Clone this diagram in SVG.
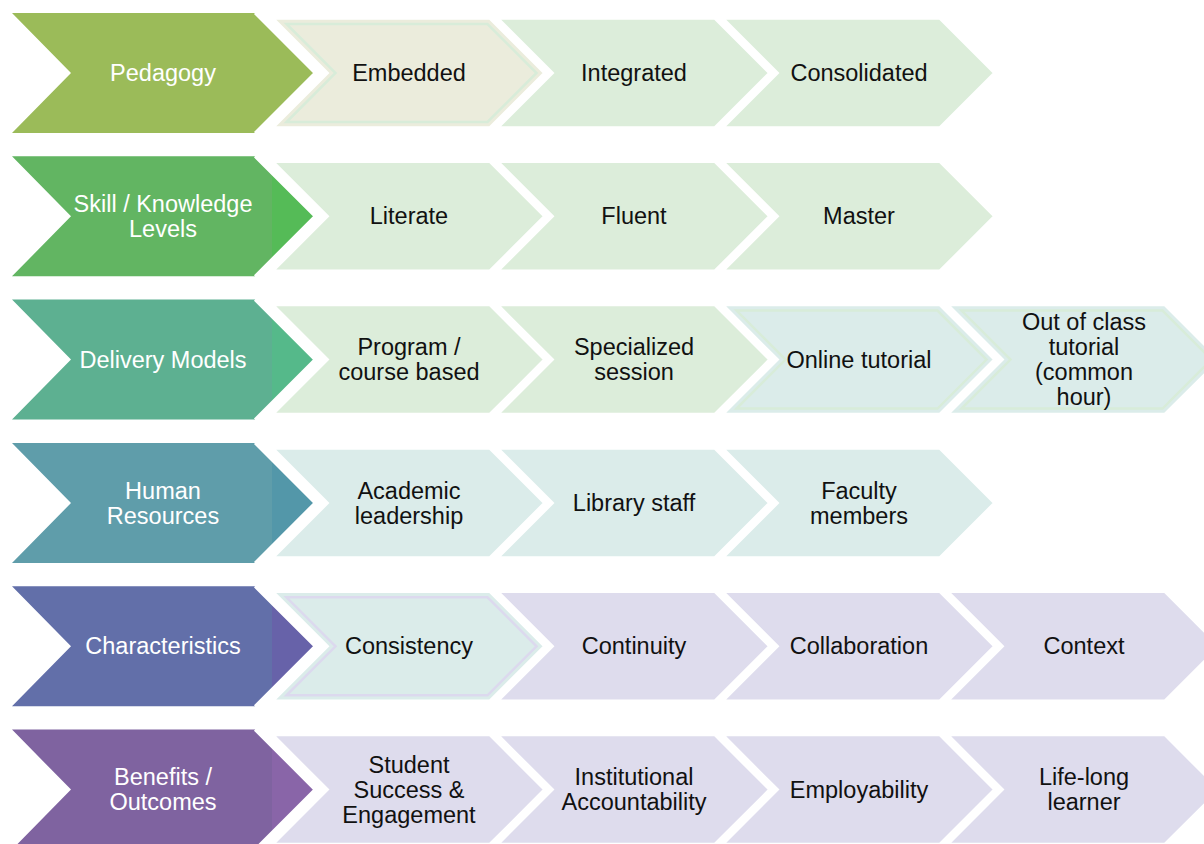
<svg xmlns="http://www.w3.org/2000/svg" xmlns:xlink="http://www.w3.org/1999/xlink" width="1204" height="844" viewBox="0 0 1204 844">
  <style>
    .edge { fill: none; stroke: #ffffff; stroke-width: 3; stroke-linejoin: miter; }
    .small { stroke: #ffffff; stroke-width: 3.5; stroke-linejoin: miter; }
    .inner { fill: none; stroke-width: 2.5; }
    .g { fill: #dcedda; }
    .b { fill: #ebecdc; }
    .t { fill: #dbecea; }
    .l { fill: #dedced; }
    .olg { stroke: #d8ecd9; }
    .oll { stroke: #dcd9ee; }
    .hd { font-family: "Liberation Sans", Arial, sans-serif; font-size: 23.5px; fill: #ffffff; text-anchor: middle; }
    .tx { font-family: "Liberation Sans", Arial, sans-serif; font-size: 23.5px; fill: #111111; text-anchor: middle; }
  </style>
  <defs>
    <polygon id="bigShape" points="0,0 243,0 303,60 243,120 0,120 59,60"/>
    <polygon id="bigTip" points="260,17 303,60 260,103"/>
    <polyline id="bigEdge" points="243,0 303,60 243,120"/>
    <polygon id="smallShape" points="0,0 218,0 273,55 218,110 0,110 55,55"/>
    <polygon id="smallInner" points="14.5,6 215.5,6 264.5,55 215.5,104 14.5,104 63.5,55"/>
  </defs>

  <!-- no connectors: the chevrons abut each other -->
  <g id="connectors"/>

  <!-- Row 1: Pedagogy -->
  <g id="r1-c4" transform="translate(722,18)"><use href="#smallShape" class="small g"/><text class="tx" x="137" y="63">Consolidated</text></g>
  <g id="r1-c3" transform="translate(497,18)"><use href="#smallShape" class="small g"/><text class="tx" x="137" y="63">Integrated</text></g>
  <g id="r1-c2" transform="translate(272,18)"><use href="#smallShape" class="small b"/><use href="#smallInner" class="inner olg"/><text class="tx" x="137" y="63">Embedded</text></g>
  <g id="r1-head" transform="translate(12,13)"><use href="#bigShape" fill="#9bbb59"/><use href="#bigTip" fill="#9bbb59"/><use href="#bigEdge" class="edge"/><text class="hd" x="151" y="68">Pedagogy</text></g>

  <!-- Row 2: Skill / Knowledge Levels -->
  <g id="r2-c4" transform="translate(722,161.3)"><use href="#smallShape" class="small g"/><text class="tx" x="137" y="63">Master</text></g>
  <g id="r2-c3" transform="translate(497,161.3)"><use href="#smallShape" class="small g"/><text class="tx" x="137" y="63">Fluent</text></g>
  <g id="r2-c2" transform="translate(272,161.3)"><use href="#smallShape" class="small g"/><text class="tx" x="137" y="63">Literate</text></g>
  <g id="r2-head" transform="translate(12,156.3)"><use href="#bigShape" fill="#62b562"/><use href="#bigTip" fill="#55bb57"/><use href="#bigEdge" class="edge"/><text class="hd" x="151" y="55.5">Skill / Knowledge</text><text class="hd" x="151" y="80.5">Levels</text></g>

  <!-- Row 3: Delivery Models -->
  <g id="r3-c5" transform="translate(947,304.6)"><use href="#smallShape" class="small t"/><use href="#smallInner" class="inner olg"/><text class="tx" x="137" y="25.5">Out of class</text><text class="tx" x="137" y="50.5">tutorial</text><text class="tx" x="137" y="75.5">(common</text><text class="tx" x="137" y="100.5">hour)</text></g>
  <g id="r3-c4" transform="translate(722,304.6)"><use href="#smallShape" class="small t"/><use href="#smallInner" class="inner olg"/><text class="tx" x="137" y="63">Online tutorial</text></g>
  <g id="r3-c3" transform="translate(497,304.6)"><use href="#smallShape" class="small g"/><text class="tx" x="137" y="50.5">Specialized</text><text class="tx" x="137" y="75.5">session</text></g>
  <g id="r3-c2" transform="translate(272,304.6)"><use href="#smallShape" class="small g"/><text class="tx" x="137" y="50.5">Program /</text><text class="tx" x="137" y="75.5">course based</text></g>
  <g id="r3-head" transform="translate(12,299.6)"><use href="#bigShape" fill="#5db091"/><use href="#bigTip" fill="#55b98a"/><use href="#bigEdge" class="edge"/><text class="hd" x="151" y="68">Delivery Models</text></g>

  <!-- Row 4: Human Resources -->
  <g id="r4-c4" transform="translate(722,448)"><use href="#smallShape" class="small t"/><text class="tx" x="137" y="50.5">Faculty</text><text class="tx" x="137" y="75.5">members</text></g>
  <g id="r4-c3" transform="translate(497,448)"><use href="#smallShape" class="small t"/><text class="tx" x="137" y="63">Library staff</text></g>
  <g id="r4-c2" transform="translate(272,448)"><use href="#smallShape" class="small t"/><text class="tx" x="137" y="50.5">Academic</text><text class="tx" x="137" y="75.5">leadership</text></g>
  <g id="r4-head" transform="translate(12,443)"><use href="#bigShape" fill="#5f9daa"/><use href="#bigTip" fill="#5397a9"/><use href="#bigEdge" class="edge"/><text class="hd" x="151" y="55.5">Human</text><text class="hd" x="151" y="80.5">Resources</text></g>

  <!-- Row 5: Characteristics -->
  <g id="r5-c5" transform="translate(947,591.3)"><use href="#smallShape" class="small l"/><text class="tx" x="137" y="63">Context</text></g>
  <g id="r5-c4" transform="translate(722,591.3)"><use href="#smallShape" class="small l"/><text class="tx" x="137" y="63">Collaboration</text></g>
  <g id="r5-c3" transform="translate(497,591.3)"><use href="#smallShape" class="small l"/><text class="tx" x="137" y="63">Continuity</text></g>
  <g id="r5-c2" transform="translate(272,591.3)"><use href="#smallShape" class="small t"/><use href="#smallInner" class="inner oll"/><text class="tx" x="137" y="63">Consistency</text></g>
  <g id="r5-head" transform="translate(12,586.3)"><use href="#bigShape" fill="#626fa9"/><use href="#bigTip" fill="#6762a9"/><use href="#bigEdge" class="edge"/><text class="hd" x="151" y="68">Characteristics</text></g>

  <!-- Row 6: Benefits / Outcomes -->
  <g id="r6-c5" transform="translate(947,734.6)"><use href="#smallShape" class="small l"/><text class="tx" x="137" y="50.5">Life-long</text><text class="tx" x="137" y="75.5">learner</text></g>
  <g id="r6-c4" transform="translate(722,734.6)"><use href="#smallShape" class="small l"/><text class="tx" x="137" y="63">Employability</text></g>
  <g id="r6-c3" transform="translate(497,734.6)"><use href="#smallShape" class="small l"/><text class="tx" x="137" y="50.5">Institutional</text><text class="tx" x="137" y="75.5">Accountability</text></g>
  <g id="r6-c2" transform="translate(272,734.6)"><use href="#smallShape" class="small l"/><text class="tx" x="137" y="38">Student</text><text class="tx" x="137" y="63">Success &amp;</text><text class="tx" x="137" y="88">Engagement</text></g>
  <g id="r6-head" transform="translate(12,729.6)"><use href="#bigShape" fill="#7f63a0"/><use href="#bigTip" fill="#8965a8"/><use href="#bigEdge" class="edge"/><text class="hd" x="151" y="55.5">Benefits /</text><text class="hd" x="151" y="80.5">Outcomes</text></g>
</svg>
